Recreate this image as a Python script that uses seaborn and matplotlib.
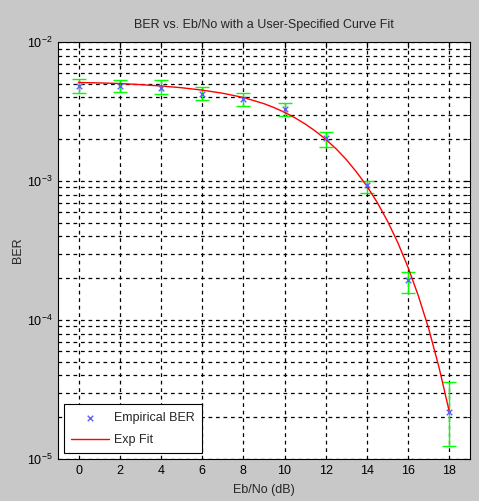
import matplotlib
matplotlib.use("Agg")
import matplotlib.pyplot as plt
import seaborn as sns
import pandas as pd

sns.set_theme(style="white")
plt.rcParams['font.family'] = ['Liberation Sans', 'DejaVu Sans']

# empirical BER with confidence intervals
ebno = [0, 2, 4, 6, 8, 10, 12, 14, 16, 18]
ber_emp = [4.85e-3, 4.83e-3, 4.67e-3, 4.23e-3, 3.87e-3, 3.28e-3, 2.03e-3, 9.4e-4, 1.93e-4, 2.19e-5]
ber_lo = [4.30e-3, 4.37e-3, 4.23e-3, 3.83e-3, 3.47e-3, 2.94e-3, 1.76e-3, 8.18e-4, 1.56e-4, 1.24e-5]
ber_hi = [5.42e-3, 5.33e-3, 5.33e-3, 4.74e-3, 4.32e-3, 3.66e-3, 2.27e-3, 1.0e-3, 2.21e-4, 3.58e-5]

# exp fit curve (denser where it bends)
fit_ebno = [0, 1, 2, 3, 4, 5, 6, 7, 8, 9, 9.5, 10, 10.5, 11, 11.5, 12, 12.5,
            13, 13.5, 14, 14.5, 15, 15.5, 16, 16.5, 17, 17.5, 18]
fit_ber = [5.13e-3, 5.09e-3, 5.04e-3, 4.95e-3, 4.84e-3, 4.70e-3, 4.52e-3, 4.29e-3,
           4.00e-3, 3.61e-3, 3.38e-3, 3.13e-3, 2.86e-3, 2.58e-3, 2.29e-3, 2.00e-3,
           1.71e-3, 1.43e-3, 1.16e-3, 9.20e-4, 7.03e-4, 5.15e-4, 3.61e-4, 2.39e-4,
           1.49e-4, 8.67e-5, 4.57e-5, 2.19e-5]

emp = pd.DataFrame({"EbNo": ebno, "BER": ber_emp})
fit = pd.DataFrame({"EbNo": fit_ebno, "BER": fit_ber})

fig = plt.figure(figsize=(4.79, 5.01), dpi=100, facecolor="#c8c8c8")
ax = fig.add_axes([0.121, 0.0838, 0.860, 0.832])
ax.set_facecolor("white")
ax.set_yscale("log")

# error bars
lower = [e - l for e, l in zip(ber_emp, ber_lo)]
upper = [h - e for e, h in zip(ber_emp, ber_hi)]
ax.errorbar(ebno, ber_emp, yerr=[lower, upper], fmt="none", ecolor="#00ff00",
            elinewidth=1, capsize=5, capthick=1, zorder=3)

sns.lineplot(data=fit, x="EbNo", y="BER", color="red", linewidth=1,
             label="Exp Fit", ax=ax, zorder=4)
sns.scatterplot(data=emp, x="EbNo", y="BER", marker="x", color="#6060ff", s=16,
                linewidth=1, label="Empirical BER", ax=ax, zorder=5)

ax.set_xlim(-1, 19)
ax.set_ylim(1e-5, 1e-2)
ax.set_xticks(ebno)

grid_kw = dict(color="black", linestyle=(0, (3, 3)), linewidth=0.9)
ax.grid(True, which="both", axis="y", **grid_kw)
ax.grid(True, which="major", axis="x", **grid_kw)
ax.set_axisbelow(True)

for s in ax.spines.values():
    s.set_color("black")
    s.set_linewidth(0.8)

ax.tick_params(which="both", direction="in", top=True, right=True, colors="black",
               labelsize=9, pad=4)
ax.tick_params(which="major", length=4, width=0.8)
ax.tick_params(which="minor", length=2, width=0.6, left=True, right=True)

ax.set_title("BER vs. Eb/No with a User-Specified Curve Fit", fontsize=9, pad=10)
ax.set_xlabel("Eb/No (dB)", fontsize=9, labelpad=5)
ax.set_ylabel("BER", fontsize=9, labelpad=2)

handles, labels = ax.get_legend_handles_labels()
order = [labels.index("Empirical BER"), labels.index("Exp Fit")]
leg = ax.legend([handles[i] for i in order], [labels[i] for i in order],
                loc="lower left", fontsize=9, frameon=True, fancybox=False,
                edgecolor="black", borderaxespad=0.45, handlelength=3.0,
                handletextpad=0.4, labelspacing=0.8, borderpad=0.6,
                framealpha=1)
leg.get_frame().set_linewidth(0.8)

fig.savefig("out.png", dpi=100, facecolor=fig.get_facecolor())
